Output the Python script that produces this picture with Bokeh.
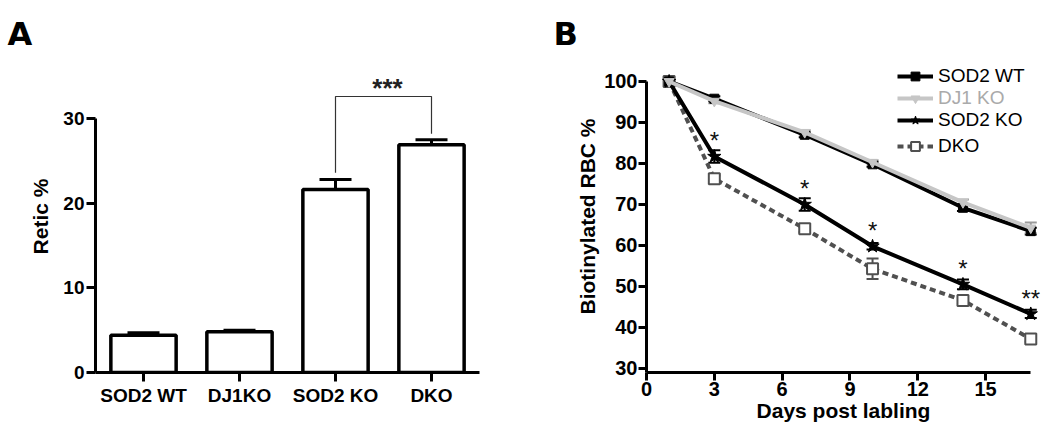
from bokeh.plotting import figure
from bokeh.models import (Range1d, FactorRange, FixedTicker, Whisker, TeeHead,
                          ColumnDataSource, Legend, LegendItem, Title)
from bokeh.layouts import row
from bokeh.embed import file_html
from bokeh.resources import INLINE
from bokeh.core.properties import value

# ---------------- data ----------------
groups = ["SOD2 WT", "DJ1KO", "SOD2 KO", "DKO"]
retic = [4.4, 4.8, 21.6, 26.9]
retic_err = [0.3, 0.2, 1.2, 0.6]

days = [1, 3, 7, 10, 14, 17]
sod2_wt = [100.0, 95.8, 87.0, 79.8, 69.2, 63.5]
sod2_wt_err = [0.4, 0.6, 0.6, 0.6, 0.8, 0.8]
dj1_ko = [100.0, 95.2, 87.6, 80.3, 70.5, 64.3]
dj1_ko_err = [0.3, 0.5, 0.5, 0.5, 0.7, 1.3]
sod2_ko = [100.0, 81.7, 70.0, 59.8, 50.5, 43.3]
sod2_ko_err = [0.4, 1.5, 1.5, 0.8, 1.2, 1.0]
dko = [100.0, 76.3, 64.1, 54.3, 46.6, 37.2]
dko_err = [0.4, 0.8, 0.8, 2.5, 0.8, 0.7]
sig_text = ["", "*", "*", "*", "*", "**"]

FONT = "Liberation Sans"
HEAVY = "DejaVu Sans"

H = 427
TOP = 60
BOTTOM = 55
B_YMIN = 29.02


def panel_title(text, offset):
    return Title(text=text, align="left", offset=offset, standoff=16,
                 text_font=HEAVY, text_font_style="bold", text_font_size="32px",
                 text_color="black")


# ---------------- panel A ----------------
pa = figure(width=545, height=H, x_range=FactorRange(*groups, range_padding=0),
            y_range=Range1d(0, 36.85), output_backend="svg", toolbar_location=None,
            min_border_left=95, min_border_right=66, min_border_top=TOP,
            min_border_bottom=BOTTOM, title=panel_title("A", -88))
pa.grid.visible = False
pa.outline_line_color = None

src_a = ColumnDataSource(dict(g=groups, v=retic,
                              up=[v + e for v, e in zip(retic, retic_err)]))
pa.vbar(x="g", top="v", bottom=0, width=0.68, source=src_a,
        fill_color="white", line_color="black", line_width=3.5)
wa = Whisker(base="g", lower="v", upper="up", source=src_a,
             line_color="black", line_width=3,
             upper_head=TeeHead(size=32, line_color="black", line_width=3),
             lower_head=None)
pa.add_layout(wa)

# significance bracket
pa.line(x=[groups[2], groups[2], groups[3], groups[3]],
        y=[retic[2] + 2.0, 32.6, 32.6, retic[3] + 1.3],
        line_color="#333333", line_width=1.2)
pa.text(x=[groups[2]], y=[33.6], text=["***"], x_offset=52,
        text_font=value(FONT), text_font_style="bold", text_font_size="26px",
        text_align="center", text_baseline="middle", text_color="#222222")

for ax in (pa.xaxis[0], pa.yaxis[0]):
    ax.axis_line_width = 3
    ax.major_tick_line_width = 3
    ax.major_tick_out = 9
    ax.major_tick_in = 0
    ax.minor_tick_line_color = None
    ax.major_label_text_font = FONT
    ax.major_label_text_font_style = "bold"
    ax.major_label_text_font_size = "19px"
    ax.major_label_text_color = "black"
    ax.axis_label_text_font = FONT
    ax.axis_label_text_font_style = "bold"
    ax.axis_label_text_font_size = "21px"
    ax.axis_label_text_color = "black"
pa.yaxis.ticker = FixedTicker(ticks=[0, 10, 20, 30])
pa.yaxis.bounds = (0, 30)
pa.yaxis.axis_label = "Retic %"
pa.yaxis.major_label_standoff = 2
pa.yaxis.axis_label_standoff = 8
pa.xaxis.major_label_standoff = 3

# ---------------- panel B ----------------
pb = figure(width=497, height=H, x_range=Range1d(0, 17.43), y_range=Range1d(B_YMIN, 105.12),
            output_backend="svg", toolbar_location=None,
            min_border_left=101, min_border_right=2, min_border_top=TOP,
            min_border_bottom=BOTTOM, title=panel_title("B", -93))
pb.grid.visible = False
pb.outline_line_color = None

GRAY = "#c6c6c6"
DGRAY = "#505050"


def whisk(vals, errs, color, size=12, lw=2):
    s = ColumnDataSource(dict(x=days, lo=[v - e for v, e in zip(vals, errs)],
                              hi=[v + e for v, e in zip(vals, errs)]))
    w = Whisker(base="x", lower="lo", upper="hi", source=s, line_color=color, line_width=lw,
                upper_head=TeeHead(size=size, line_color=color, line_width=lw),
                lower_head=TeeHead(size=size, line_color=color, line_width=lw))
    pb.add_layout(w)


# DKO
whisk(dko, dko_err, DGRAY)
r_dko_l = pb.line(days, dko, line_color=DGRAY, line_width=4, line_dash="6 4")
r_dko_m = pb.scatter(days, dko, marker="square", size=11, fill_color="white",
                     line_color=DGRAY, line_width=2)
# SOD2 KO
whisk(sod2_ko, sod2_ko_err, "black")
r_ko_l = pb.line(days, sod2_ko, line_color="black", line_width=4)
r_ko_m = pb.scatter(days, sod2_ko, marker="star", size=14, fill_color="black",
                    line_color="black")
# SOD2 WT
whisk(sod2_wt, sod2_wt_err, "black")
r_wt_l = pb.line(days, sod2_wt, line_color="black", line_width=4)
r_wt_m = pb.scatter(days, sod2_wt, marker="square", size=9, fill_color="black",
                    line_color="black")
# DJ1 KO (drawn over SOD2 WT)
whisk(dj1_ko, dj1_ko_err, "#9a9a9a")
r_dj_l = pb.line(days, dj1_ko, line_color=GRAY, line_width=4)
r_dj_m = pb.scatter(days, dj1_ko, marker="inverted_triangle", size=10, fill_color=GRAY,
                    line_color=GRAY)

# significance stars above SOD2 KO
pb.text(x=days[1:], y=[v + 3.8 for v in sod2_ko[1:]], text=sig_text[1:],
        text_font=value(FONT), text_font_size="24px", text_align="center",
        text_baseline="middle", text_color="#111111")

for ax in (pb.xaxis[0], pb.yaxis[0]):
    ax.axis_line_width = 3
    ax.major_tick_line_width = 3
    ax.major_tick_out = 8
    ax.major_tick_in = 0
    ax.minor_tick_line_color = None
    ax.major_label_text_font = FONT
    ax.major_label_text_font_style = "bold"
    ax.major_label_text_font_size = "20px"
    ax.major_label_text_color = "black"
    ax.axis_label_text_font = FONT
    ax.axis_label_text_font_style = "bold"
    ax.axis_label_text_font_size = "21px"
    ax.axis_label_text_color = "black"
pb.yaxis.ticker = FixedTicker(ticks=[30, 40, 50, 60, 70, 80, 90, 100])
pb.yaxis.bounds = (B_YMIN, 100)
pb.yaxis.axis_label = "Biotinylated RBC %"
pb.yaxis.major_label_standoff = 1
pb.yaxis.axis_label_standoff = 2
pb.xaxis.ticker = FixedTicker(ticks=[0, 3, 6, 9, 12, 15])
pb.xaxis.bounds = (0, 17)
pb.xaxis.axis_label = "Days post labling"
pb.xaxis.major_label_standoff = 1
pb.xaxis.axis_label_standoff = 0

legend_rows = [("SOD2 WT", [r_wt_l, r_wt_m], "black", 76),
               ("DJ1 KO", [r_dj_l, r_dj_m], "#aaaaaa", 98),
               ("SOD2 KO", [r_ko_l, r_ko_m], "black", 120),
               ("DKO", [r_dko_l, r_dko_m], "black", 146)]
FRAME_B_BOTTOM = H - BOTTOM
for name, rends, col, cy in legend_rows:
    lg = Legend(items=[LegendItem(label=name, renderers=rends)],
                location=(251, FRAME_B_BOTTOM - (cy + 11)), padding=0, margin=0, spacing=0,
                glyph_width=36, glyph_height=22, label_height=22, label_standoff=5,
                border_line_color=None, background_fill_alpha=0,
                label_text_font=FONT, label_text_font_size="19px", label_text_color=col)
    pb.add_layout(lg, "center")

layout = row(pa, pb)
open("out.html", "w").write(file_html(layout, INLINE))
